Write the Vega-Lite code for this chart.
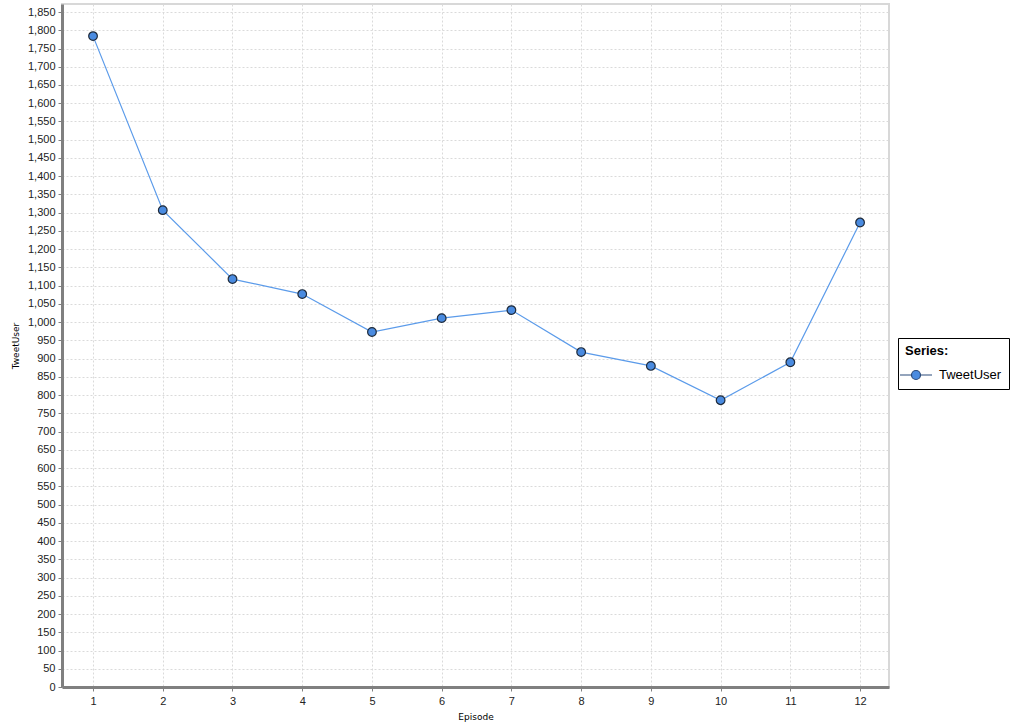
{
  "$schema": "https://vega.github.io/schema/vega-lite/v6.json",
  "width": 827,
  "height": 683,
  "autosize": "none",
  "padding": {"left": 62, "top": 4, "right": 121, "bottom": 40},
  "background": "white",
  "config": {
    "view": {"stroke": "#d8d8d8", "strokeWidth": 2},
    "axis": {
      "labelFont": "Liberation Sans",
      "labelFontSize": 11,
      "labelColor": "#222222",
      "titleFont": "DejaVu Sans",
      "titleFontSize": 9,
      "titleFontWeight": "normal",
      "titleColor": "#000000",
      "domainColor": "#808080",
      "domainWidth": 3,
      "tickColor": "#808080",
      "tickSize": 4,
      "gridColor": "#dadada",
      "gridDash": [2, 2],
      "gridWidth": 1
    }
  },
  "data": {
    "values": [
      {"Episode": 1, "TweetUser": 1784, "Series": "TweetUser"},
      {"Episode": 2, "TweetUser": 1307, "Series": "TweetUser"},
      {"Episode": 3, "TweetUser": 1118, "Series": "TweetUser"},
      {"Episode": 4, "TweetUser": 1077, "Series": "TweetUser"},
      {"Episode": 5, "TweetUser": 973, "Series": "TweetUser"},
      {"Episode": 6, "TweetUser": 1011, "Series": "TweetUser"},
      {"Episode": 7, "TweetUser": 1033, "Series": "TweetUser"},
      {"Episode": 8, "TweetUser": 918, "Series": "TweetUser"},
      {"Episode": 9, "TweetUser": 880, "Series": "TweetUser"},
      {"Episode": 10, "TweetUser": 786, "Series": "TweetUser"},
      {"Episode": 11, "TweetUser": 890, "Series": "TweetUser"},
      {"Episode": 12, "TweetUser": 1273, "Series": "TweetUser"}
    ]
  },
  "encoding": {
    "x": {
      "field": "Episode",
      "type": "quantitative",
      "scale": {"domain": [0.555, 12.415], "nice": false, "zero": false},
      "axis": {
        "title": "Episode",
        "values": [1, 1.5, 2, 2.5, 3, 3.5, 4, 4.5, 5, 5.5, 6, 6.5, 7, 7.5, 8, 8.5, 9, 9.5, 10, 10.5, 11, 11.5, 12],
        "format": "d",
        "labelExpr": "datum.value % 1 == 0 ? format(datum.value, 'd') : ''",
        "grid": true,
        "labelPadding": 4,
        "titlePadding": 6
      }
    },
    "y": {
      "field": "TweetUser",
      "type": "quantitative",
      "scale": {"domain": [0, 1872], "nice": false, "zero": true},
      "axis": {
        "title": "TweetUser",
        "values": [0, 50, 100, 150, 200, 250, 300, 350, 400, 450, 500, 550, 600, 650, 700, 750, 800, 850, 900, 950, 1000, 1050, 1100, 1150, 1200, 1250, 1300, 1350, 1400, 1450, 1500, 1550, 1600, 1650, 1700, 1750, 1800, 1850],
        "format": ",d",
        "grid": true,
        "labelPadding": 3,
        "titlePadding": 7
      }
    }
  },
  "layer": [
    {
      "mark": {"type": "line", "color": "#5b9bea", "strokeWidth": 1.2},
      "encoding": {}
    },
    {
      "mark": {"type": "point", "filled": true, "shape": "circle", "size": 75, "stroke": "#1e2a3a", "strokeWidth": 1.2, "opacity": 1},
      "encoding": {
        "fill": {
          "field": "Series",
          "type": "nominal",
          "scale": {"range": ["#4a8be0"]},
          "legend": {
            "title": "Series:",
            "orient": "none",
            "legendX": 836,
            "legendY": 334,
            "titleFont": "Liberation Sans",
            "titleFontSize": 13,
            "titleFontWeight": "bold",
            "titleColor": "#000000",
            "labelFont": "Liberation Sans",
            "labelFontSize": 13,
            "labelColor": "#000000",
            "strokeColor": "#000000",
            "fillColor": "#ffffff",
            "padding": 7,
            "titlePadding": 6,
            "symbolType": "M-1.6,0H-0.45M0.45,0H1.6M-0.45,0A0.45,0.45 0 1,1 0.45,0A0.45,0.45 0 1,1 -0.45,0",
            "symbolSize": 400,
            "symbolStrokeColor": "#2a4a7a",
            "symbolStrokeWidth": 1.2,
            "symbolOffset": 0,
            "labelOffset": 12
          }
        }
      }
    }
  ]
}
